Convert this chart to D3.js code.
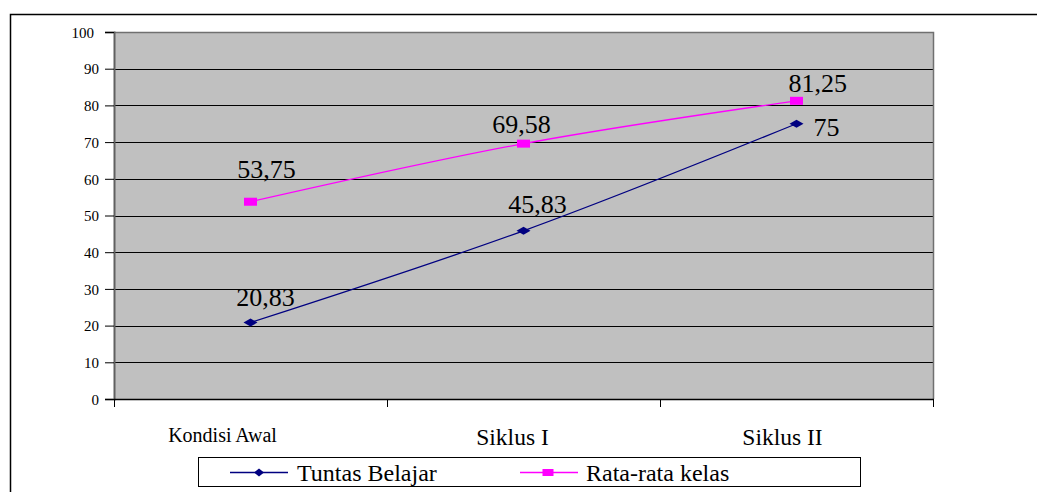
<!DOCTYPE html>
<html>
<head>
<meta charset="utf-8">
<script src="https://cdn.jsdelivr.net/npm/d3@7/dist/d3.min.js"></script>
<style>
  html, body { margin: 0; padding: 0; background: #fff; }
  svg text { font-family: "Liberation Serif", "DejaVu Serif", serif !important; }
</style>
</head>
<body>
<svg id="chart" width="1037" height="492"></svg>
<script>
// Chart data
const categories = ["Kondisi Awal", "Siklus I", "Siklus II"];
const tuntasBelajar = [20.83, 45.83, 75];
const rataRataKelas = [53.75, 69.58, 81.25];
const yTickValues = [0, 10, 20, 30, 40, 50, 60, 70, 80, 90, 100];
const seriesNames = ["Tuntas Belajar", "Rata-rata kelas"];

// Layout settings (offsets of category and value labels)
const categoryShift = [-28, -11, -14];
const categoryFont = [20, 23.5, 23.5];
const tuntasLabelPos = [[15, -17, "middle"], [14, -18, "middle"], [17, 12, "start"]];
const rataLabelPos = [[16, -24, "middle"], [-2, -11, "middle"], [-8, -9, "start"]];

const NAVY = "#000080", MAGENTA = "#FF00FF";
const SERIF = '"Liberation Serif", "DejaVu Serif", serif';
const svg = d3.select("#chart");

const plot = { left: 114, right: 933, top: 32, bottom: 399 };
const x = d3.scaleBand().domain(categories).range([plot.left, plot.right]);
const y = d3.scaleLinear().domain([0, 100]).range([plot.bottom, plot.top]);
const cx = c => x(c) + x.bandwidth() / 2;
const fmt = v => String(v).replace(".", ",");

// Outer chart frame (left and top edges)
svg.append("path")
  .attr("d", "M10.5,492 V14.5 H1037")
  .attr("fill", "none").attr("stroke", "#000").attr("stroke-width", 1.5);

// Plot background
svg.append("rect")
  .attr("x", plot.left).attr("y", plot.top)
  .attr("width", plot.right - plot.left).attr("height", plot.bottom - plot.top)
  .attr("fill", "#C0C0C0");

// Horizontal gridlines
svg.append("g").selectAll("line")
  .data(yTickValues.filter(t => t > 0 && t < 100))
  .join("line")
  .attr("x1", plot.left).attr("x2", plot.right)
  .attr("y1", d => Math.round(y(d)) + 0.5).attr("y2", d => Math.round(y(d)) + 0.5)
  .attr("stroke", "#000").attr("stroke-width", 1);

// Plot border (top, right) in gray
svg.append("path")
  .attr("d", `M${plot.left},${plot.top + 0.5} H${plot.right + 0.5} V${plot.bottom}`)
  .attr("fill", "none").attr("stroke", "#707070").attr("stroke-width", 1.5);

// Y axis
const yAxis = d3.axisLeft(y).tickValues(yTickValues).tickSize(9).tickPadding(6);
const gy = svg.append("g")
  .attr("transform", `translate(${plot.left},0)`)
  .call(yAxis)
  .attr("font-family", SERIF);
gy.select(".domain").attr("stroke", "#606060").attr("stroke-width", 2);
gy.selectAll(".tick line").attr("stroke", "#000");
gy.selectAll(".tick text")
  .style("font-family", SERIF)
  .attr("font-size", 15).attr("fill", "#000")
  .attr("dy", "0.35em")
  .attr("dx", d => d === 100 ? -5 : 0);

// X axis (category ticks on band edges)
const gx = svg.append("g")
  .attr("transform", `translate(0,${plot.bottom})`);
gx.append("line")
  .attr("x1", plot.left).attr("x2", plot.right + 1)
  .attr("y1", 0.5).attr("y2", 0.5)
  .attr("stroke", "#000").attr("stroke-width", 1.5);
const edges = categories.map(c => x(c)).concat([plot.right]);
gx.selectAll("line.edge").data(edges).join("line")
  .attr("class", "edge")
  .attr("x1", d => Math.round(d) + 0.5).attr("x2", d => Math.round(d) + 0.5)
  .attr("y1", 0).attr("y2", 8)
  .attr("stroke", "#000").attr("stroke-width", 1);
gx.selectAll("text").data(categories).join("text")
  .attr("x", (d, i) => cx(d) + categoryShift[i])
  .attr("y", (d, i) => i === 0 ? 43 : 46)
  .attr("text-anchor", "middle")
  .style("font-family", SERIF)
  .attr("font-size", (d, i) => categoryFont[i])
  .attr("fill", "#000")
  .text(d => d);

// Series lines
const line = d3.line()
  .x(d => cx(d.c))
  .y(d => y(d.v))
  .curve(d3.curveCatmullRom.alpha(0.5));

const series = [
  { name: seriesNames[0], values: tuntasBelajar, color: NAVY, shape: "diamond", labels: tuntasLabelPos },
  { name: seriesNames[1], values: rataRataKelas, color: MAGENTA, shape: "square", labels: rataLabelPos }
];

function drawMarker(g, shape, color, px, py, w, h) {
  if (shape === "diamond") {
    g.append("path")
      .attr("d", `M${px - w / 2},${py} L${px},${py - h / 2} L${px + w / 2},${py} L${px},${py + h / 2} Z`)
      .attr("fill", color);
  } else {
    g.append("rect")
      .attr("x", px - w / 2).attr("y", py - h / 2)
      .attr("width", w).attr("height", h)
      .attr("fill", color);
  }
}

series.forEach(s => {
  const pts = s.values.map((v, i) => ({ c: categories[i], v }));
  svg.append("path")
    .datum(pts)
    .attr("d", line)
    .attr("fill", "none")
    .attr("stroke", s.color)
    .attr("stroke-width", 1.3);

  const gm = svg.append("g");
  pts.forEach(p => {
    if (s.shape === "diamond") drawMarker(gm, "diamond", s.color, cx(p.c), y(p.v), 14, 8);
    else drawMarker(gm, "square", s.color, cx(p.c), y(p.v), 13, 8);
  });

  svg.append("g").selectAll("text").data(pts).join("text")
    .attr("x", (d, i) => cx(d.c) + s.labels[i][0])
    .attr("y", (d, i) => y(d.v) + s.labels[i][1])
    .attr("text-anchor", (d, i) => s.labels[i][2])
    .style("font-family", SERIF)
    .attr("font-size", 26)
    .attr("fill", "#000")
    .text(d => fmt(d.v));
});

// Legend
const legend = svg.append("g");
legend.append("rect")
  .attr("x", 198.5).attr("y", 457.5)
  .attr("width", 662).attr("height", 29)
  .attr("fill", "#fff").attr("stroke", "#000").attr("stroke-width", 1);

const legendItems = [
  { x: 230, textX: 297 },
  { x: 520, textX: 586 }
];
series.forEach((s, i) => {
  const it = legendItems[i];
  legend.append("line")
    .attr("x1", it.x).attr("x2", it.x + 58)
    .attr("y1", 472.5).attr("y2", 472.5)
    .attr("stroke", s.color).attr("stroke-width", 1.3);
  if (s.shape === "diamond") drawMarker(legend, "diamond", s.color, it.x + 29, 472.5, 10, 8);
  else drawMarker(legend, "square", s.color, it.x + 28, 472.5, 11, 7);
  legend.append("text")
    .attr("x", it.textX).attr("y", 481)
    .style("font-family", SERIF)
    .attr("font-size", 24)
    .attr("fill", "#000")
    .text(s.name);
});
</script>
</body>
</html>
